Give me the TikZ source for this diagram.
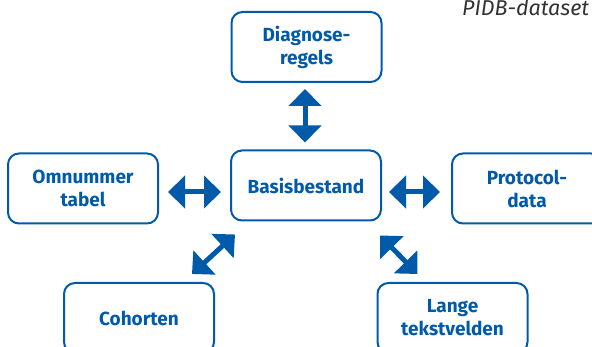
\documentclass[tikz,border=0pt]{standalone}
\usepackage{fontspec}
\setmainfont{Fira Sans}
\usepackage{tikz}
\usetikzlibrary{arrows.meta}
\definecolor{pidbblue}{RGB}{0,90,170}
\definecolor{pidbgrey}{RGB}{50,50,50}

\begin{document}
\begin{tikzpicture}[x=1pt, y=-1pt, align=center,
    box/.style={draw=pidbblue, line width=2pt, rounded corners=11pt, text=pidbblue,
        font=\fontsize{19}{23}\selectfont\bfseries, minimum width=150pt, minimum height=70pt, inner sep=0pt},
    dblarrow/.style={draw=pidbblue, line width=5pt,
        {Triangle[width=32pt,length=17pt]}-{Triangle[width=32pt,length=17pt]}}]
        \useasboundingbox (0,0) rectangle (592,347);
        \node[box](Diagnoseregels) at (306.5, 47) {Diagnose-\\regels};
        \node[box](Basisbestand) at (306, 185.5) {Basisbestand};
        \node[box](Omnummertabel) at (83, 188.5) {Omnummer\\tabel};
        \node[box](Protocoldata) at (527, 188.5) {Protocol-\\data};
        \node[box](Cohorten) at (139, 318) {Cohorten};
        \node[box](Langetekstvelden) at (452.5, 318) {Lange\\tekstvelden};

        \node[anchor=base west, text=pidbgrey, inner sep=0pt,
            font=\fontsize{21.5}{25}\selectfont\itshape](Titel) at (462, 16) {PIDB-dataset};

        \draw[dblarrow] ([shift={(-1.5,6)}]Diagnoseregels.south) -- ([shift={(-1,-7)}]Basisbestand.north);
        \draw[dblarrow] ([shift={(9,3.5)}]Omnummertabel.east) -- ([shift={(-9,6.5)}]Basisbestand.west);
        \draw[dblarrow] ([shift={(7,6.5)}]Basisbestand.east) -- ([shift={(-11,3.5)}]Protocoldata.west);
        \draw[dblarrow] ([shift={(5,13)}]Basisbestand.south west) -- ([shift={(-23,-8)}]Cohorten.north east);
        \draw[dblarrow] ([shift={(-2,14)}]Basisbestand.south east) -- ([shift={(41,-8)}]Langetekstvelden.north west);
    \end{tikzpicture}
\end{document}
